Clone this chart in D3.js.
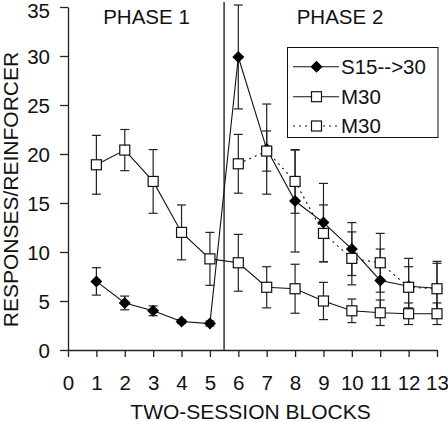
<!DOCTYPE html>
<html><head><meta charset="utf-8">
<script src="https://cdn.jsdelivr.net/npm/d3@7"></script>
<style>
html,body{margin:0;padding:0;background:#fff;}
svg{display:block;font-family:"Liberation Sans",Arial,Helvetica,sans-serif;}
</style></head>
<body>
<svg id="chart" width="448" height="422"></svg>
<script>
// ---- data ----
const blocks = [1,2,3,4,5,6,7,8,9,10,11,12,13];
const s15Values = [7.0, 4.8, 4.0, 2.9, 2.7, 29.9, 20.5, 15.2, 13.0, 10.3, 7.1, 6.5, 6.3];
const s15Errors = [1.4, 0.7, 0.5, 0.2, 0.25, 5.3, 4.6, 5.2, 4.0, 2.7, 3.2, 2.85, 2.75];
const m30Values = [18.9, 20.4, 17.2, 12.0, 9.3, 8.9, 6.4, 6.25, 5.0, 4.0, 3.8, 3.7, 3.7];
const m30Errors = [3.0, 2.1, 3.25, 2.8, 2.7, 2.9, 2.1, 2.5, 1.9, 1.2, 1.3, 1.1, 1.1];
const m30bBlocks = [6,7,8,9,10,11,12,13];
const m30bValues = [19.0, 20.3, 17.2, 11.9, 9.35, 8.9, 6.4, 6.25];
const m30bErrors = [3.0, 2.05, 3.25, 2.9, 2.7, 3.0, 2.1, 2.6];
const xTicks = [0,1,2,3,4,5,6,7,8,9,10,11,12,13];
const yTicks = [0,5,10,15,20,25,30,35];
const legendLabels = ["S15-->30", "M30", "M30"];
const phaseLabels = ["PHASE 1", "PHASE 2"];
const phaseBoundary = 5.5;

const svg = d3.select("#chart");
const x = d3.scaleLinear().domain([0,13]).range([68,437]);
const y = d3.scaleLinear().domain([0,35]).range([350,7]);

// axes
const yAxis = svg.append("g").attr("transform","translate(68,0)")
  .call(d3.axisLeft(y).tickValues(yTicks).tickSize(8).tickSizeOuter(0).tickPadding(10));
const xAxis = svg.append("g").attr("transform","translate(0,350)")
  .call(d3.axisBottom(x).tickValues(xTicks).tickSize(7).tickSizeOuter(0).tickPadding(18));
[yAxis,xAxis].forEach(g=>{
  g.selectAll("path,line").attr("stroke","#222").attr("stroke-width",1.3);
  g.selectAll("text").attr("fill","#111").style("font-size","20.5px").attr("font-family",null);
});
yAxis.selectAll(".tick text").attr("dy",d=> d===35 ? "0.52em" : "0.38em");

// phase line
svg.append("line").attr("x1",x(phaseBoundary)).attr("x2",x(phaseBoundary))
  .attr("y1",y(35.5)).attr("y2",y(0)).attr("stroke","#555").attr("stroke-width",1.8);

// titles
svg.append("text").attr("x",250.5).attr("y",419).attr("text-anchor","middle")
  .style("font-size","21px").attr("fill","#111").text("TWO-SESSION BLOCKS");
svg.append("text").attr("transform","translate(18,189.5) rotate(-90)").attr("text-anchor","middle")
  .style("font-size","21px").attr("fill","#111").text("RESPONSES/REINFORCER");
svg.append("text").attr("x",146.5).attr("y",24).attr("text-anchor","middle")
  .style("font-size","20.5px").attr("fill","#111").text(phaseLabels[0]);
svg.append("text").attr("x",340).attr("y",24).attr("text-anchor","middle")
  .style("font-size","20.5px").attr("fill","#111").text(phaseLabels[1]);

function series(xs, vs, es){ return xs.map((b,i)=>({b, v:vs[i], e:es[i]})); }
const s15 = series(blocks, s15Values, s15Errors);
const m30 = series(blocks, m30Values, m30Errors);
const m30b = series(m30bBlocks, m30bValues, m30bErrors);

function errorBars(data){
  const g = svg.append("g").attr("stroke","#222").attr("stroke-width",1.2);
  data.forEach(d=>{
    g.append("line").attr("x1",x(d.b)).attr("x2",x(d.b)).attr("y1",y(d.v+d.e)).attr("y2",y(d.v-d.e));
    [d.v+d.e, d.v-d.e].forEach(t=>g.append("line").attr("x1",x(d.b)-4.5).attr("x2",x(d.b)+4.5).attr("y1",y(t)).attr("y2",y(t)));
  });
}
const line = d3.line().x(d=>x(d.b)).y(d=>y(d.v));
function drawLine(data, dash){
  svg.append("path").datum(data).attr("d",line).attr("fill","none").attr("stroke","#111")
    .attr("stroke-width",1.1).attr("stroke-dasharray",dash||null);
}
const diamondPath = "M0,-6L6,0L0,6L-6,0Z";
function diamonds(data){
  svg.append("g").selectAll("path").data(data).join("path")
    .attr("d",diamondPath).attr("transform",d=>`translate(${x(d.b)},${y(d.v)})`).attr("fill","#000");
}
function squares(data){
  svg.append("g").selectAll("rect").data(data).join("rect")
    .attr("x",d=>x(d.b)-5).attr("y",d=>y(d.v)-5).attr("width",10).attr("height",10)
    .attr("fill","#fff").attr("stroke","#111").attr("stroke-width",1.2);
}

errorBars(s15); errorBars(m30b); errorBars(m30);
drawLine(s15); drawLine(m30b,"2,4"); drawLine(m30);
diamonds(s15); squares(m30b); squares(m30);

// legend
const lg = svg.append("g");
lg.append("rect").attr("x",287.5).attr("y",47.5).attr("width",150.5).attr("height",90)
  .attr("fill","#fff").attr("stroke","#111").attr("stroke-width",1);
const ly = [66.7, 96.7, 126];
const dashes = [null, null, "2,4"];
ly.forEach((yy,i)=>{
  lg.append("line").attr("x1",293).attr("x2",339).attr("y1",yy).attr("y2",yy)
    .attr("stroke","#111").attr("stroke-width",1.1).attr("stroke-dasharray",dashes[i]);
  if(i===0) lg.append("path").attr("d",diamondPath).attr("transform",`translate(316.5,${yy})`).attr("fill","#000");
  else lg.append("rect").attr("x",311.5).attr("y",yy-5).attr("width",10).attr("height",10)
    .attr("fill","#fff").attr("stroke","#111").attr("stroke-width",1.2);
  lg.append("text").attr("x",341).attr("y",yy).attr("dy","0.36em").style("font-size","20.5px")
    .attr("fill","#111").text(legendLabels[i]);
});
</script>
</body></html>
